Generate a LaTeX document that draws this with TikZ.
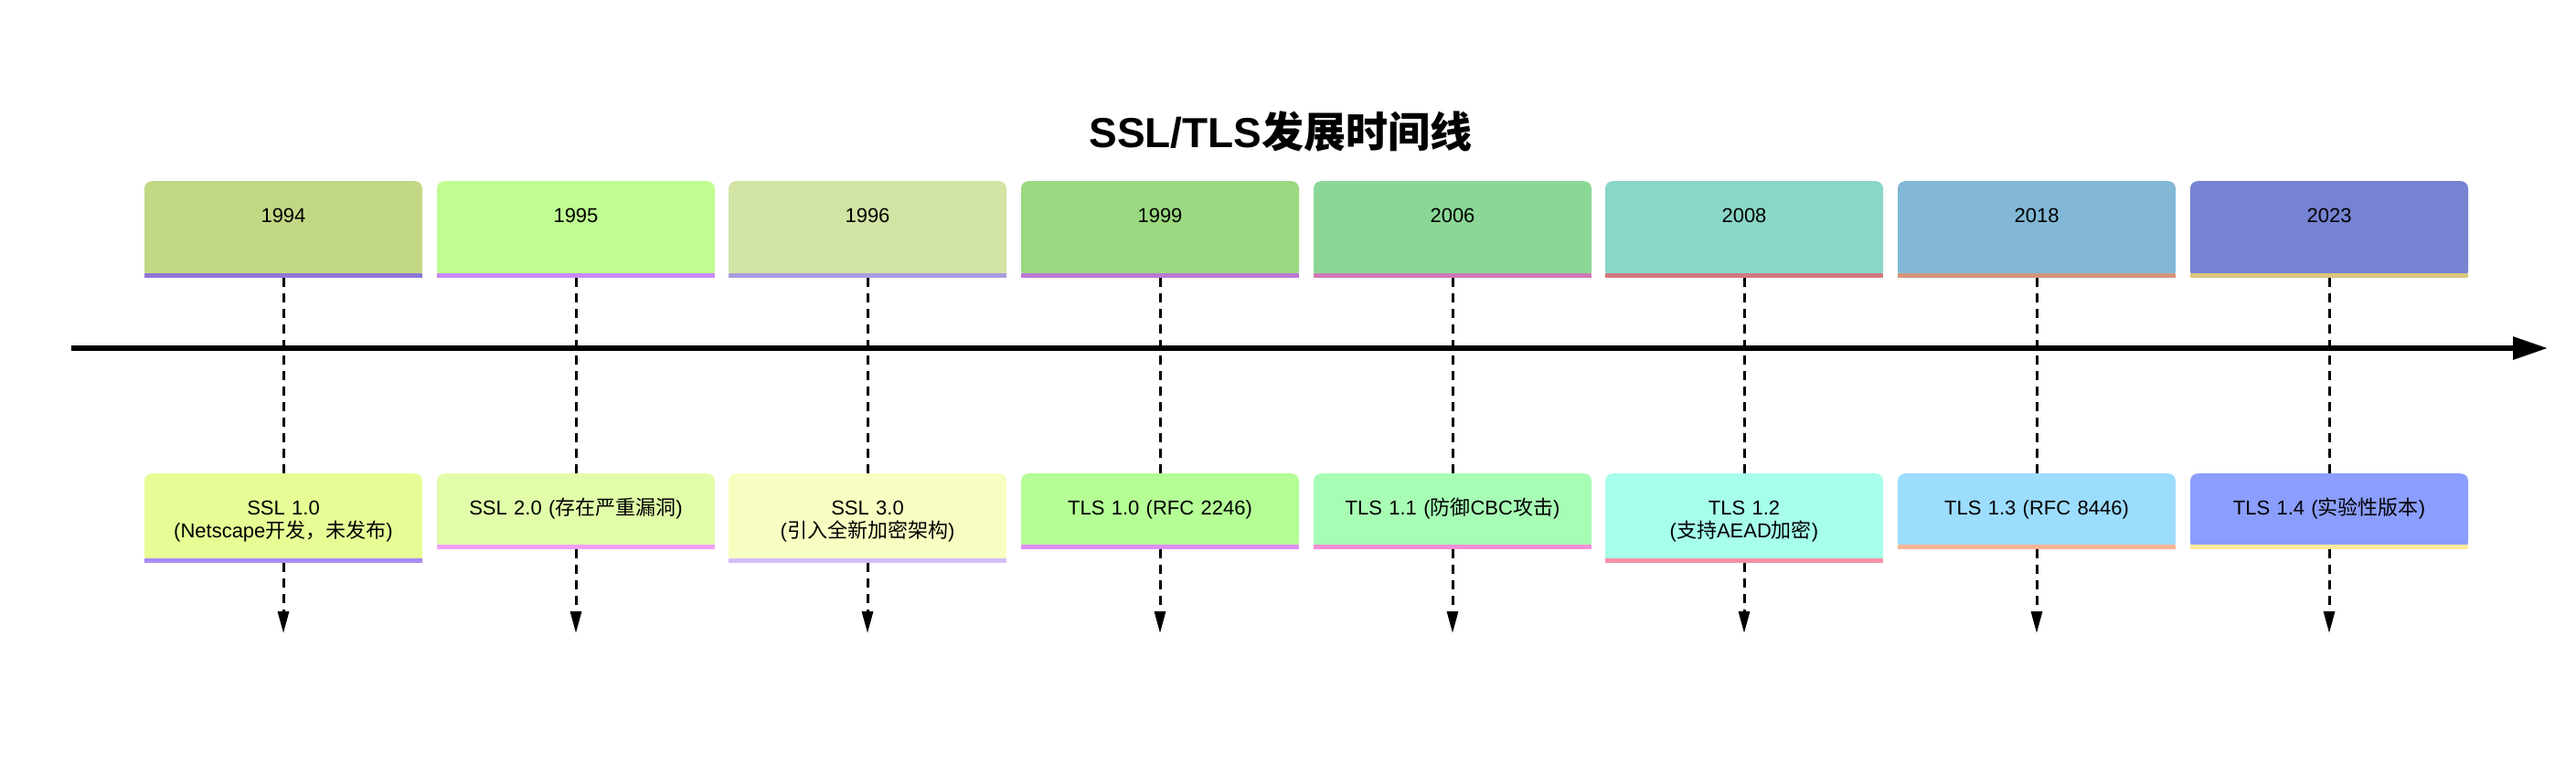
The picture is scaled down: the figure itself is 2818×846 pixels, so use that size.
\documentclass[tikz,border=0pt]{standalone}
\usepackage{fontspec}
\setmainfont{Liberation Sans}
\newfontfamily\cjk{Noto Sans CJK SC}
\usetikzlibrary{arrows.meta}

\newcommand{\zh}[1]{{\cjk #1}}
\newcommand{\cardstrip}[2]{\draw[line width=5pt, draw=#2] ([yshift=2.5pt]#1.south west) -- ([yshift=2.5pt]#1.south east);}

% year cards and strips
\definecolor{yc1}{HTML}{C2D784}\definecolor{ys1}{HTML}{8E78D6}
\definecolor{yc2}{HTML}{BFFC91}\definecolor{ys2}{HTML}{C88AF6}
\definecolor{yc3}{HTML}{D2E4A4}\definecolor{ys3}{HTML}{A99DDF}
\definecolor{yc4}{HTML}{9BD880}\definecolor{ys4}{HTML}{BA78D6}
\definecolor{yc5}{HTML}{8BD796}\definecolor{ys5}{HTML}{D079B6}
\definecolor{yc6}{HTML}{8AD7C7}\definecolor{ys6}{HTML}{D27880}
\definecolor{yc7}{HTML}{82B8D6}\definecolor{ys7}{HTML}{D49478}
\definecolor{yc8}{HTML}{7683D2}\definecolor{ys8}{HTML}{D9C87E}
% version cards and strips
\definecolor{vc1}{HTML}{E6FD95}\definecolor{vs1}{HTML}{A88BF8}
\definecolor{vc2}{HTML}{E2FDA9}\definecolor{vs2}{HTML}{F0A0F6}
\definecolor{vc3}{HTML}{F8FEC1}\definecolor{vs3}{HTML}{D4BDF8}
\definecolor{vc4}{HTML}{B5FD95}\definecolor{vs4}{HTML}{DC8EF6}
\definecolor{vc5}{HTML}{A8FDB5}\definecolor{vs5}{HTML}{F490D8}
\definecolor{vc6}{HTML}{A6FEEB}\definecolor{vs6}{HTML}{F591A3}
\definecolor{vc7}{HTML}{9CDDFE}\definecolor{vs7}{HTML}{FAB494}
\definecolor{vc8}{HTML}{8B9EFE}\definecolor{vs8}{HTML}{FFEB9E}

\begin{document}
\begin{tikzpicture}[x=1pt,y=-1pt,
    card/.style={rounded corners=8pt, inner sep=0pt, minimum width=304pt,
      text width=284pt, align=center, anchor=north,
      font=\fontsize{22}{25}\selectfont, text height=45pt},
    yearcard/.style={card, text depth=61pt},
    vercard/.style={card, text depth=37.7pt},
    vercardtwo/.style={card, text depth=53pt},
    drop/.style={line width=3pt, dash pattern=on 10pt off 7pt},
    dropend/.style={drop, -{Triangle[length=24pt,width=12pt]}}]
    \useasboundingbox (0,0) rectangle (2818,846);

    % Title
    \node[anchor=base, font=\fontsize{46}{50}\selectfont\bfseries] (title) at (1401,161) {SSL/TLS\zh{发展时间线}};

    % Axis
    \coordinate (axisstart) at (78,381);
    \coordinate (axisend) at (2787,381);
    \draw[line width=6pt, -{Triangle[length=38pt,width=24pt]}] (axisstart) -- (axisend);

    % Years
    \node[yearcard, fill=yc1] (t1) at (310,198) {1994};
    \node[yearcard, fill=yc2] (t2) at (630,198) {1995};
    \node[yearcard, fill=yc3] (t3) at (949,198) {1996};
    \node[yearcard, fill=yc4] (t4) at (1269,198) {1999};
    \node[yearcard, fill=yc5] (t5) at (1589,198) {2006};
    \node[yearcard, fill=yc6] (t6) at (1908,198) {2008};
    \node[yearcard, fill=yc7] (t7) at (2228,198) {2018};
    \node[yearcard, fill=yc8] (t8) at (2548,198) {2023};

    % Versions
    \node[vercardtwo, fill=vc1] (v1) at (310,518) {SSL 1.0\\(Netscape\zh{开发，未发布})};
    \node[vercard, fill=vc2] (v2) at (630,518) {SSL 2.0 (\zh{存在严重漏洞})};
    \node[vercardtwo, fill=vc3] (v3) at (949,518) {SSL 3.0\\(\zh{引入全新加密架构})};
    \node[vercard, fill=vc4] (v4) at (1269,518) {TLS 1.0 (RFC 2246)};
    \node[vercard, fill=vc5] (v5) at (1589,518) {TLS 1.1 (\zh{防御}CBC\zh{攻击})};
    \node[vercardtwo, fill=vc6] (v6) at (1908,518) {TLS 1.2\\(\zh{支持}AEAD\zh{加密})};
    \node[vercard, fill=vc7] (v7) at (2228,518) {TLS 1.3 (RFC 8446)};
    \node[vercard, fill=vc8] (v8) at (2548,518) {TLS 1.4 (\zh{实验性版本})};

    % Strips
    \cardstrip{t1}{ys1} \cardstrip{t2}{ys2} \cardstrip{t3}{ys3} \cardstrip{t4}{ys4}
    \cardstrip{t5}{ys5} \cardstrip{t6}{ys6} \cardstrip{t7}{ys7} \cardstrip{t8}{ys8}
    \cardstrip{v1}{vs1} \cardstrip{v2}{vs2} \cardstrip{v3}{vs3} \cardstrip{v4}{vs4}
    \cardstrip{v5}{vs5} \cardstrip{v6}{vs6} \cardstrip{v7}{vs7} \cardstrip{v8}{vs8}

    % Drop lines
    \coordinate (e1) at (310,693);
    \coordinate (e2) at (630,693);
    \coordinate (e3) at (949,693);
    \coordinate (e4) at (1269,693);
    \coordinate (e5) at (1589,693);
    \coordinate (e6) at (1908,693);
    \coordinate (e7) at (2228,693);
    \coordinate (e8) at (2548,693);

    \draw[drop] (t1) -- (v1);
    \draw[drop] (t2) -- (v2);
    \draw[drop] (t3) -- (v3);
    \draw[drop] (t4) -- (v4);
    \draw[drop] (t5) -- (v5);
    \draw[drop] (t6) -- (v6);
    \draw[drop] (t7) -- (v7);
    \draw[drop] (t8) -- (v8);

    \draw[dropend] (v1) -- (e1);
    \draw[dropend] (v2) -- (e2);
    \draw[dropend] (v3) -- (e3);
    \draw[dropend] (v4) -- (e4);
    \draw[dropend] (v5) -- (e5);
    \draw[dropend] (v6) -- (e6);
    \draw[dropend] (v7) -- (e7);
    \draw[dropend] (v8) -- (e8);
\end{tikzpicture}
\end{document}
